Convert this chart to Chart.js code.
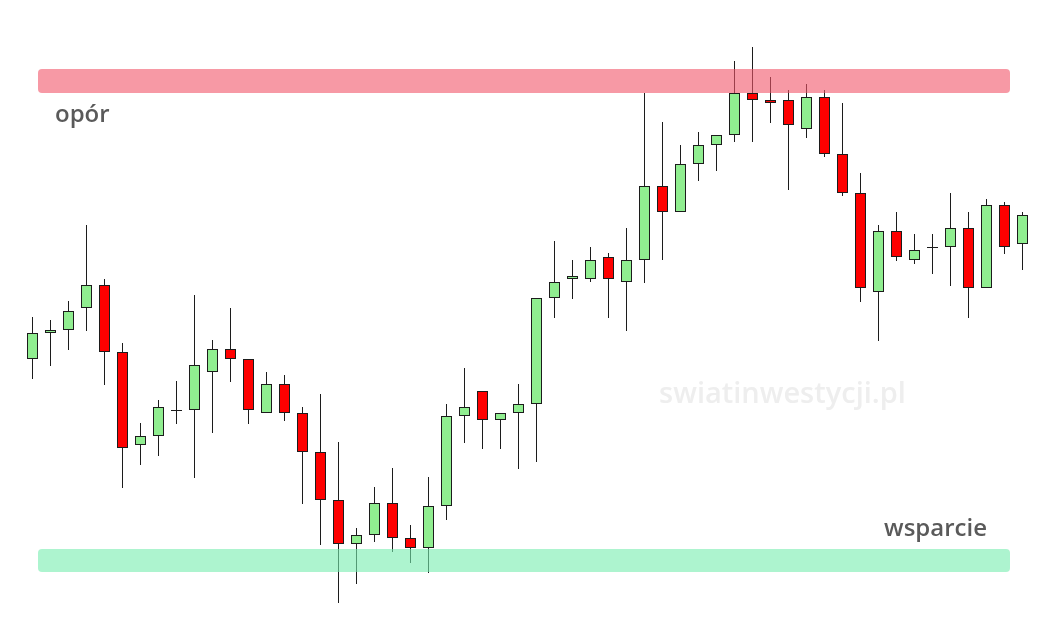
<!DOCTYPE html>
<html>
<head>
<meta charset="utf-8">
<title>opór / wsparcie</title>
<script src="https://cdn.jsdelivr.net/npm/chart.js@4/dist/chart.umd.min.js"></script>
<style>
    html, body { margin: 0; padding: 0; background: #ffffff; }
    #wrap { width: 1050px; height: 640px; position: relative; }
</style>
</head>
<body>
<div id="wrap"><canvas id="candles"></canvas></div>
<script>
// Candle data
const opens  = [28.1, 30.7, 31.0, 33.2, 35.5, 28.8, 19.5, 20.4, 23.0, 23.0, 26.8, 29.1, 28.1, 22.7,
                25.6, 22.7, 18.8, 14.0, 9.6, 10.5, 13.7, 10.2, 9.2, 13.4, 22.4, 24.9, 22.0, 22.7,
                23.6, 34.2, 36.1, 36.1, 38.3, 35.8, 38.0, 45.4, 42.8, 47.6, 49.5, 50.5, 54.7, 54.0,
                54.0, 51.1, 54.3, 48.6, 44.7, 34.8, 40.9, 38.0, 39.3, 39.3, 41.2, 35.2, 43.5, 39.6];
const highs  = [32.3, 32.0, 33.9, 41.5, 36.1, 29.7, 21.7, 24.0, 25.9, 34.5, 30.0, 33.2, 28.1, 26.8,
                26.5, 23.3, 24.6, 19.8, 11.2, 15.3, 17.2, 11.5, 16.3, 23.6, 27.2, 24.9, 22.7, 25.6,
                34.2, 39.9, 38.0, 39.3, 38.7, 41.2, 54.7, 51.8, 49.5, 50.8, 50.5, 57.9, 59.3, 56.3,
                55.0, 55.6, 55.0, 53.7, 46.7, 41.5, 42.8, 40.6, 40.6, 44.7, 42.8, 44.1, 43.8, 42.8];
const lows   = [26.1, 27.4, 29.0, 30.9, 25.5, 15.2, 17.5, 18.4, 21.6, 16.2, 20.7, 25.8, 21.6, 22.7,
                21.9, 13.6, 9.5, 3.7, 5.6, 9.8, 8.8, 7.7, 6.7, 12.0, 19.7, 19.1, 19.1, 17.1,
                17.8, 32.2, 34.1, 35.8, 32.2, 30.9, 35.7, 38.0, 42.8, 45.9, 46.9, 49.8, 49.8, 51.7,
                45.0, 50.2, 48.3, 44.4, 33.8, 29.9, 37.9, 37.6, 36.6, 35.4, 32.2, 35.2, 38.6, 37.0];
const closes = [30.7, 31.0, 32.9, 35.5, 28.8, 19.2, 20.4, 23.3, 22.9, 27.5, 29.1, 28.1, 23.0, 25.6,
                22.7, 18.8, 14.0, 9.6, 10.5, 13.7, 10.2, 9.2, 13.4, 22.4, 23.3, 22.0, 22.7, 23.6,
                34.2, 35.8, 36.4, 38.0, 36.1, 38.0, 45.4, 42.8, 47.6, 49.5, 50.5, 54.7, 54.0, 53.7,
                51.5, 54.3, 48.6, 44.7, 35.2, 40.9, 38.3, 39.0, 39.2, 41.2, 35.2, 43.5, 39.3, 42.5];

// Zones
const resistanceZone = [54.7, 57.1];
const supportZone = [6.8, 9.1];
const zoneLabels = ['opór', 'wsparcie'];
const watermark = 'swiatinwestycji.pl';

const labels = opens.map((_, i) => i + 1);
const bodies = opens.map((o, i) => [o, closes[i]]);
const wicks = lows.map((l, i) => [l, highs[i]]);

const UP = '#90ee90';
const DOWN = '#ff0000';
const EDGE = '#1c1c1c';

// Zones + texts
const zonesPlugin = {
    id: 'zones',
    beforeDatasetsDraw(chart) {
        const { ctx, chartArea } = chart;
        const y = chart.scales.y;
        ctx.save();
        ctx.fillStyle = '#eeeeee';
        ctx.font = '600 29px "Open Sans"';
        ctx.textAlign = 'center';
        ctx.textBaseline = 'alphabetic';
        ctx.fillText(watermark, chartArea.left + 759, y.getPixelForValue(23.7));
        ctx.restore();
    },
    afterDatasetsDraw(chart) {
        const { ctx, chartArea } = chart;
        const y = chart.scales.y;
        const left = chartArea.left + 14.5;
        const right = chartArea.right - 21.5;

        function zone(range, color) {
            const top = y.getPixelForValue(range[1]);
            const bottom = y.getPixelForValue(range[0]);
            ctx.beginPath();
            ctx.roundRect(left, top, right - left, bottom - top, 4);
            ctx.fillStyle = color;
            ctx.fill();
        }

        ctx.save();
        zone(resistanceZone, 'rgba(242, 85, 105, 0.6)');
        zone(supportZone, 'rgba(118, 237, 175, 0.6)');

        ctx.fillStyle = '#5a5a5a';
        ctx.font = '600 24px "Open Sans"';
        ctx.textBaseline = 'alphabetic';
        ctx.textAlign = 'left';
        ctx.fillText(zoneLabels[0], left + 17, y.getPixelForValue(resistanceZone[0]) + 29);
        ctx.textAlign = 'right';
        ctx.fillText(zoneLabels[1], right - 23, y.getPixelForValue(supportZone[1]) - 13);
        ctx.restore();
    }
};

const ctx = document.getElementById('candles').getContext('2d');
new Chart(ctx, {
    type: 'bar',
    data: {
        labels: labels,
        datasets: [
            {
                label: 'body',
                data: bodies,
                backgroundColor: bodies.map(b => (b[1] >= b[0] ? UP : DOWN)),
                borderColor: EDGE,
                borderWidth: 1,
                borderSkipped: false,
                inflateAmount: 0,
                barThickness: 11,
                grouped: false,
            },
            {
                label: 'wick',
                data: wicks,
                backgroundColor: EDGE,
                borderWidth: 0,
                inflateAmount: 0,
                barThickness: 1,
                grouped: false,
            }
        ]
    },
    options: {
        responsive: true,
        maintainAspectRatio: false,
        animation: false,
        layout: {
            padding: { left: 23.5, right: 18.5, top: 0, bottom: 0 }
        },
        plugins: {
            legend: { display: false },
            tooltip: { enabled: false },
        },
        scales: {
            x: { display: false, grid: { display: false } },
            y: { display: false, min: 0, max: 64 }
        }
    },
    plugins: [zonesPlugin]
});
</script>
</body>
</html>
